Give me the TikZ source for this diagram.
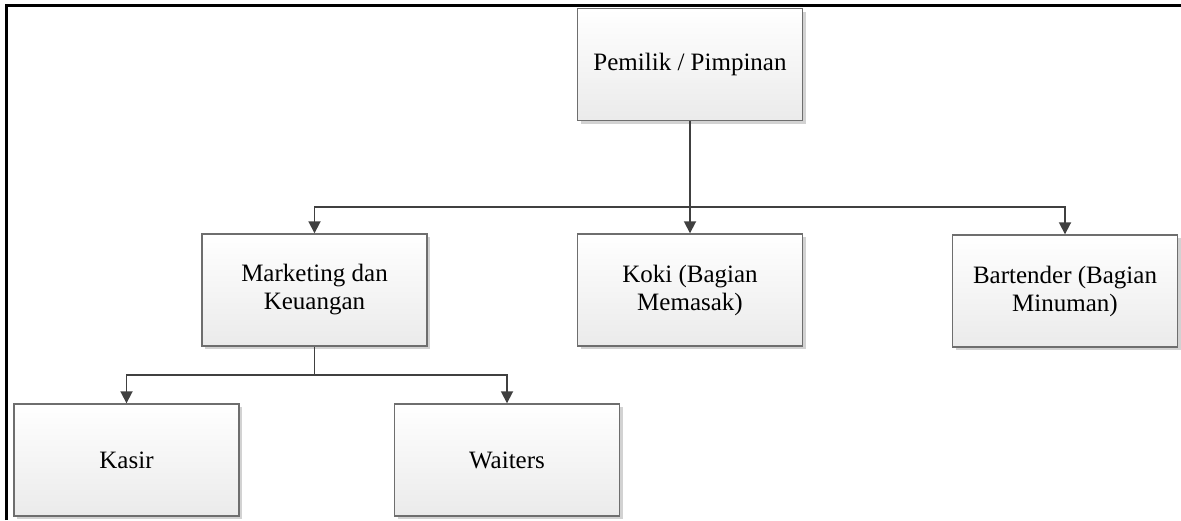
\documentclass[tikz,border=0pt]{standalone}
\usepackage{fontspec}
\setmainfont{Liberation Serif}
\usetikzlibrary{arrows.meta,shadows}
\definecolor{boxline}{HTML}{6E6E6E}
\definecolor{conncol}{HTML}{404040}
\tikzset{
  orgbox/.style={rectangle, draw=boxline, line width=1.4pt,
    top color=white, bottom color=black!8,
    minimum width=225pt, minimum height=112pt, inner sep=2pt,
    align=center, font=\fontsize{25}{28}\selectfont,
    drop shadow={shadow xshift=3pt, shadow yshift=-3pt, fill=black!35, opacity=0.5}},
  conn/.style={draw=conncol, line width=1.8pt, -{Triangle[width=12pt,length=12pt]}},
  frame/.style={line width=3pt, black}
}
\begin{document}
\begin{tikzpicture}[x=1pt,y=-1pt]
\useasboundingbox (0,0) rectangle (1181,520);
\draw[frame] (6.5,520) -- (6.5,5.5) -- (1181,5.5);
\node[orgbox] (top) at (690,64.5) {Pemilik / Pimpinan};
\node[orgbox] (mk) at (314.5,290) {Marketing dan\\Keuangan};
\node[orgbox] (koki) at (690,290) {Koki (Bagian\\Memasak)};
\node[orgbox] (bar) at (1065,291) {Bartender (Bagian\\Minuman)};
\node[orgbox] (kasir) at (126.5,460) {Kasir};
\node[orgbox] (wait) at (507,460) {Waiters};
\coordinate (bus1) at (690,207);
\coordinate (bus2) at (314.5,375);
\draw[conn] (top.south) -- (koki.north);
\draw[conn] (bus1) -| (mk.north);
\draw[conn] (bus1) -| (bar.north);
\draw[draw=conncol, line width=1.8pt] (mk.south) -- (bus2);
\draw[conn] (bus2) -| (kasir.north);
\draw[conn] (bus2) -| (wait.north);
\end{tikzpicture}
\end{document}
